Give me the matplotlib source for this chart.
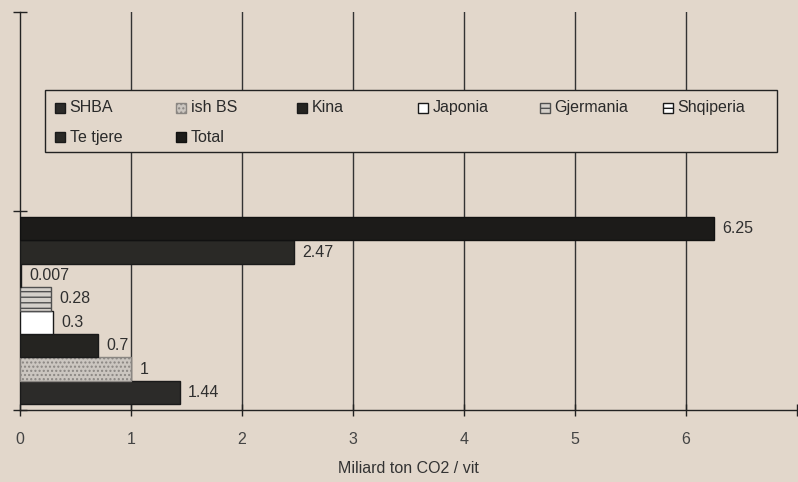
import matplotlib.pyplot as plt
from matplotlib.patches import Rectangle

plt.rcParams['font.family'] = ['Liberation Sans', 'DejaVu Sans']
plt.rcParams['hatch.linewidth'] = 1.0

# CO2 emissions per year, bottom bar first
countries = ["SHBA", "ish BS", "Kina", "Japonia", "Gjermania", "Shqiperia", "Te tjere", "Total"]
emissions = [1.44, 1.0, 0.7, 0.3, 0.28, 0.007, 2.47, 6.25]
value_labels = ["1.44", "1", "0.7", "0.3", "0.28", "0.007", "2.47", "6.25"]

bg = "#e2d7cb"
ink = "#2f2f2f"
styles = {
    "SHBA":      dict(facecolor="#2c2b29", edgecolor="#1a1a1a", hatch=None),
    "ish BS":    dict(facecolor="#cbc6c0", edgecolor="#8a8682", hatch="...."),
    "Kina":      dict(facecolor="#252421", edgecolor="#1a1a1a", hatch=None),
    "Japonia":   dict(facecolor="#ffffff", edgecolor="#1a1a1a", hatch=None),
    "Gjermania": dict(facecolor="#d4d0ca", edgecolor="#505050", hatch="---"),
    "Shqiperia": dict(facecolor="#ffffff", edgecolor="#1a1a1a", hatch="-"),
    "Te tjere":  dict(facecolor="#2a2926", edgecolor="#1a1a1a", hatch=None),
    "Total":     dict(facecolor="#1c1b19", edgecolor="#111111", hatch=None),
}

fig = plt.figure(figsize=(7.98, 4.82), dpi=100, facecolor=bg)
ax = fig.add_axes([0.025, 0.149, 0.974, 0.826], facecolor=bg)

n = len(countries)
h = 0.94 / n
for i, (name, val, lab) in enumerate(zip(countries, emissions, value_labels)):
    y = (i - (n - 1) / 2) * h
    st = styles[name]
    ax.barh(y, val, height=h, facecolor=st["facecolor"], edgecolor=st["edgecolor"],
            hatch=st["hatch"], linewidth=1.0, label=name, zorder=3)
    ax.annotate(lab, (val, y), xytext=(6, 0), textcoords="offset points",
                ha="left", va="center", fontsize=11.5, color=ink, zorder=4)

ax.set_xlim(0, 7)
ax.set_ylim(-0.5, 1.5)
ax.set_xticks(range(0, 8))
ax.set_xticklabels([str(v) if v < 7 else "" for v in range(0, 8)])
ax.set_yticks([-0.5, 0.5, 1.5])
ax.set_yticklabels([])
ax.tick_params(axis="x", direction="inout", length=9, width=1, pad=11,
               labelsize=11.5, colors="#222222", labelcolor="#444444")
ax.tick_params(axis="y", direction="inout", length=10, width=1, colors="#222222")

for s in ["top", "right"]:
    ax.spines[s].set_visible(False)
for s in ["left", "bottom"]:
    ax.spines[s].set_color("#222222")
    ax.spines[s].set_linewidth(1.0)

for x in range(1, 7):
    ax.axvline(x, color="#333333", lw=1.0, zorder=1)

ax.set_xlabel("Miliard ton CO2 / vit", fontsize=11.5, color="#333333", labelpad=10)

# legend box with evenly spaced columns, two rows
tr = ax.transAxes
ax.add_patch(Rectangle((0.032, 0.648), 0.942, 0.156, transform=tr, facecolor=bg,
                       edgecolor="#222222", lw=1.0, zorder=5, clip_on=False))
col_x = [0.045, 0.201, 0.357, 0.512, 0.669, 0.827]
row_y = [0.760, 0.686]
sw, sh = 10 / 777, 10 / 398
for k, name in enumerate(countries):
    r, c = divmod(k, 6)
    st = styles[name]
    ax.add_patch(Rectangle((col_x[c], row_y[r] - sh / 2), sw, sh, transform=tr,
                           facecolor=st["facecolor"], edgecolor=st["edgecolor"],
                           hatch=st["hatch"], lw=1.0, zorder=6, clip_on=False))
    ax.text(col_x[c] + sw + 0.006, row_y[r], name, transform=tr, ha="left",
            va="center", fontsize=11.5, color="#2a2a2a", zorder=6)

fig.savefig("out.png", dpi=100, facecolor=bg)
